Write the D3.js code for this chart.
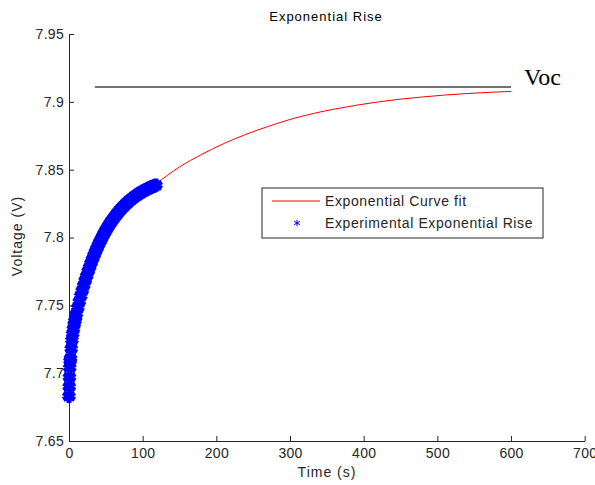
<!DOCTYPE html>
<html>
<head>
<meta charset="utf-8">
<script src="https://cdn.jsdelivr.net/npm/d3@7"></script>
<style>
  body { margin: 0; background: #fff; }
  svg { display: block; font-family: 'Liberation Sans', Arial, sans-serif; }
  .axis path, .axis line { stroke: #262626; }
  .axis text { fill: #262626; font-size: 14px; letter-spacing: 0.3px; }
</style>
</head>
<body>
<div id="chart"></div>
<script>
// values
const chartTitle = 'Exponential Rise'
const xTicks = [0, 100, 200, 300, 400, 500, 600, 700]
const yTicks = [7.65, 7.7, 7.75, 7.8, 7.85, 7.9, 7.95]

// experimental points (s, V)
const expTime = [0, 0.3, 0.6, 1, 1.5, 2, 3, 4, 5, 6, 7, 8, 9, 10, 12, 14, 16, 18, 20, 22, 24, 26, 28, 30,
  32, 34, 36, 38, 40, 42, 44, 46, 48, 50, 52, 54, 56, 58, 60, 62, 64, 66, 68, 70,
  72, 74, 76, 78, 80, 82, 84, 86, 88, 90, 92, 94, 96, 98, 100, 102, 104, 106, 108, 110,
  112, 114, 116, 118]
const expVolt = [7.683, 7.690, 7.697, 7.704, 7.709, 7.7108, 7.718, 7.7243, 7.729, 7.7325, 7.736, 7.7385, 7.741, 7.7437, 7.7483, 7.7528, 7.7569, 7.7609, 7.7646, 7.7683, 7.7717, 7.7751, 7.7782, 7.7813,
  7.7842, 7.7869, 7.7896, 7.7921, 7.7946, 7.7969, 7.7991, 7.8012, 7.8033, 7.8052, 7.8071, 7.8088, 7.8106, 7.8122, 7.8137, 7.8152, 7.8166, 7.8180, 7.8193, 7.8206,
  7.8217, 7.8229, 7.8240, 7.8250, 7.8260, 7.8270, 7.8279, 7.8288, 7.8296, 7.8304, 7.8312, 7.8319, 7.8326, 7.8333, 7.8339, 7.8345, 7.8351, 7.8357, 7.8362, 7.8367,
  7.8372, 7.8377, 7.8381, 7.8386]

// fitted curve (s, V)
const fitTime = [118, 150, 180, 210, 240, 270, 300, 330, 360, 390, 420, 450, 480, 510, 540, 570, 600]
const fitVolt = [7.8395, 7.8520, 7.8612, 7.8692, 7.8760, 7.8818, 7.8870, 7.8912, 7.8946, 7.8975, 7.9000, 7.9020, 7.9036, 7.9050, 7.9061, 7.9070, 7.9077]

// open circuit voltage line
const vocTime = [35, 600]
const vocVolt = 7.911

const legendLabels = ['Exponential Curve fit', 'Experimental Exponential Rise']

const W = 595, H = 485

const svg = d3.select('#chart').append('svg')
  .attr('width', W)
  .attr('height', H)

const x = d3.scaleLinear().domain([0, 700]).range([69, 584.7])
const y = d3.scaleLinear().domain([7.65, 7.95]).range([441, 34])

// axes (left and bottom only, ticks pointing in)
svg.append('g')
  .attr('class', 'axis')
  .attr('transform', 'translate(0,441)')
  .call(d3.axisBottom(x).tickValues(xTicks).tickSizeInner(-5).tickSizeOuter(0).tickPadding(7))

svg.append('g')
  .attr('class', 'axis')
  .attr('transform', 'translate(69,0)')
  .call(d3.axisLeft(y).tickValues(yTicks).tickFormat(d => String(+d.toFixed(2))).tickSizeInner(-5).tickSizeOuter(0).tickPadding(5))

// title and labels
svg.append('text')
  .attr('x', 326).attr('y', 21)
  .attr('text-anchor', 'middle')
  .attr('font-size', 13).attr('letter-spacing', 1).attr('fill', '#000')
  .text(chartTitle)

svg.append('text')
  .attr('x', 327).attr('y', 477)
  .attr('text-anchor', 'middle')
  .attr('font-size', 14).attr('letter-spacing', 1).attr('fill', '#262626')
  .text('Time (s)')

svg.append('text')
  .attr('transform', 'translate(22,236) rotate(-90)')
  .attr('text-anchor', 'middle')
  .attr('font-size', 14).attr('letter-spacing', 1).attr('fill', '#262626')
  .text('Voltage (V)')

// Voc line
svg.append('line')
  .attr('x1', x(vocTime[0])).attr('x2', x(vocTime[1]))
  .attr('y1', y(vocVolt)).attr('y2', y(vocVolt))
  .attr('stroke', '#444').attr('stroke-width', 1.5)

svg.append('text')
  .attr('x', 524).attr('y', 85)
  .attr('font-family', "'Liberation Serif', 'Times New Roman', serif")
  .attr('font-size', 24).attr('fill', '#000')
  .text('Voc')

// fitted curve
const fit = fitTime.map((t, i) => [t, fitVolt[i]])
svg.append('path')
  .datum(fit)
  .attr('fill', 'none')
  .attr('stroke', '#ff0000')
  .attr('stroke-width', 1)
  .attr('d', d3.line().x(d => x(d[0])).y(d => y(d[1])).curve(d3.curveMonotoneX))

// experimental markers
const star = d3.symbol().type(d3.symbolAsterisk).size(125)
const pts = expTime.map((t, i) => [t, expVolt[i]])
svg.append('g')
  .selectAll('path')
  .data(pts)
  .enter().append('path')
  .attr('transform', d => 'translate(' + x(d[0]) + ',' + y(d[1]) + ')')
  .attr('d', star)
  .attr('fill', 'none')
  .attr('stroke', '#0000ff')
  .attr('stroke-width', 5)

// legend
const lg = svg.append('g').attr('transform', 'translate(262,188)')
lg.append('rect')
  .attr('width', 281).attr('height', 50)
  .attr('fill', '#fff').attr('stroke', '#262626').attr('stroke-width', 1)
lg.append('line')
  .attr('x1', 10).attr('x2', 58).attr('y1', 13).attr('y2', 13)
  .attr('stroke', '#ff0000').attr('stroke-width', 1)
lg.append('path')
  .attr('transform', 'translate(35,35)')
  .attr('d', d3.symbol().type(d3.symbolAsterisk).size(30))
  .attr('fill', 'none').attr('stroke', '#0000ff').attr('stroke-width', 1)
lg.selectAll('text.lbl')
  .data(legendLabels)
  .enter().append('text')
  .attr('class', 'lbl')
  .attr('x', 63).attr('y', (d, i) => 18 + i * 22)
  .attr('font-size', 14).attr('letter-spacing', 0.6).attr('fill', '#262626')
  .text(d => d)
</script>
</body>
</html>
